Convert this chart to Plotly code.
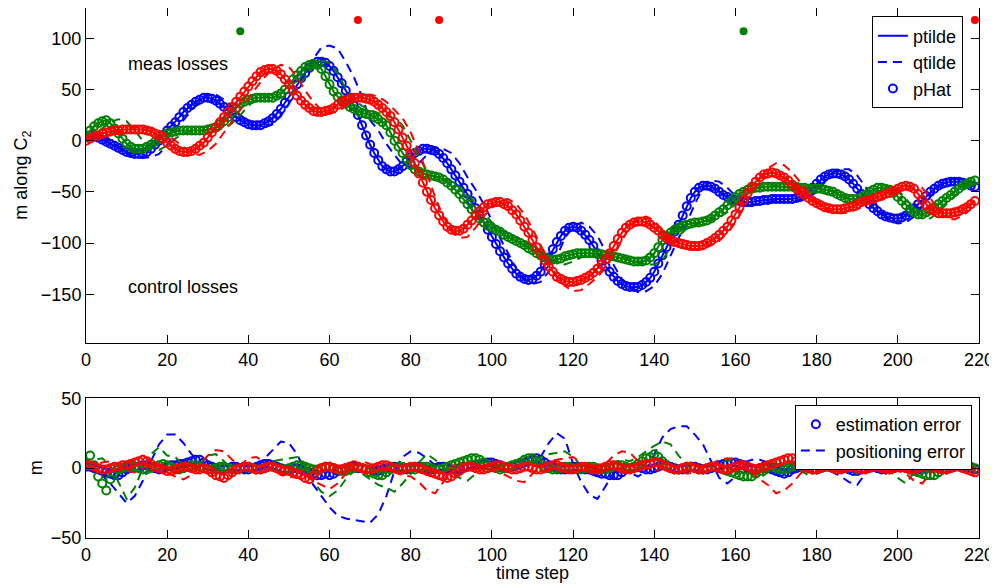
import plotly.graph_objects as go

# ---------------- data ----------------
t_p = list(range(220))
blue_phat = [5,5,4,3,1,-1,-3,-5,-7,-9,-11,-12,-13,-13,-12,-11,-8,-4,0,5,
             10,14,18,23,28,32,35,38,40,42,42,41,39,36,33,30,26,23,20,18,
             16,15,15,15,17,19,22,26,31,37,43,49,55,61,66,71,75,77,77,76,
             73,68,62,56,49,42,34,25,15,5,-4,-12,-19,-25,-28,-30,-30,-28,-25,-20,
             -16,-12,-10,-8,-8,-9,-10,-13,-17,-22,-28,-34,-40,-46,-52,-59,-66,-73,-80,-87,
             -94,-101,-108,-114,-120,-125,-130,-133,-135,-136,-135,-132,-128,-121,-114,-106,-99,-93,-88,-85,
             -84,-85,-88,-92,-97,-103,-110,-117,-123,-128,-133,-137,-140,-142,-143,-143,-143,-141,-138,-134,
             -128,-120,-112,-104,-96,-89,-82,-73,-64,-56,-50,-46,-44,-44,-45,-47,-50,-53,-55,-57,
             -58,-59,-60,-60,-60,-59,-59,-58,-58,-57,-57,-57,-57,-57,-57,-56,-55,-53,-50,-46,
             -42,-38,-35,-33,-32,-32,-33,-35,-38,-42,-47,-52,-57,-62,-66,-69,-72,-74,-75,-76,
             -76,-75,-73,-70,-66,-62,-58,-54,-50,-47,-44,-42,-41,-40,-40,-40,-41,-42,-44,-45]
green_phat = [5,10,14,17,19,20,17,12,7,2,-3,-6,-8,-8,-8,-6,-4,-1,2,5,
              7,8,9,10,10,10,10,10,10,10,11,12,13,16,19,23,28,32,36,38,
              40,41,42,42,42,42,42,44,46,50,55,60,64,68,72,74,75,74,70,63,
              55,48,43,39,36,33,31,29,27,26,25,23,21,18,15,8,0,-6,-12,-18,
              -24,-28,-30,-32,-33,-34,-35,-36,-38,-41,-44,-48,-52,-57,-62,-67,-72,-76,-80,-83,
              -85,-87,-89,-92,-94,-96,-98,-100,-102,-105,-107,-110,-112,-114,-116,-116,-116,-115,-113,-112,
              -111,-110,-110,-110,-110,-110,-111,-111,-112,-112,-113,-114,-115,-116,-117,-118,-118,-118,-117,-114,
              -110,-104,-97,-93,-90,-87,-85,-83,-82,-81,-80,-80,-79,-78,-76,-73,-70,-67,-63,-59,
              -55,-52,-50,-48,-47,-46,-46,-45,-45,-45,-45,-45,-45,-45,-45,-45,-46,-46,-47,-47,
              -47,-47,-48,-49,-50,-52,-54,-56,-57,-57,-57,-55,-53,-50,-48,-46,-46,-47,-48,-51,
              -55,-59,-63,-67,-70,-72,-72,-70,-68,-65,-62,-59,-56,-53,-50,-47,-44,-42,-40,-39]
red_phat = [0,2,4,5,7,8,9,10,10,11,11,11,11,11,11,10,9,7,5,2,
            -2,-5,-8,-10,-11,-11,-10,-8,-5,-2,3,8,13,18,23,28,33,38,43,48,
            53,58,63,67,69,70,70,68,65,60,55,49,44,39,35,32,29,28,28,29,
            30,32,35,38,40,41,42,42,42,41,40,38,35,32,28,24,18,11,3,-5,
            -13,-22,-32,-41,-50,-58,-66,-73,-79,-84,-87,-88,-88,-86,-82,-78,-73,-69,-65,-62,
            -61,-60,-60,-62,-64,-68,-72,-78,-84,-90,-97,-104,-110,-117,-123,-128,-133,-135,-137,-138,
            -138,-137,-136,-134,-132,-129,-125,-121,-116,-110,-103,-96,-90,-85,-82,-80,-79,-79,-80,-82,
            -85,-88,-92,-95,-97,-99,-100,-101,-102,-103,-103,-103,-102,-100,-98,-95,-92,-88,-84,-78,
            -72,-65,-58,-51,-45,-40,-36,-33,-32,-31,-32,-34,-36,-39,-43,-47,-50,-53,-56,-59,
            -61,-63,-65,-66,-67,-67,-67,-66,-65,-64,-62,-60,-59,-58,-57,-55,-54,-52,-51,-49,
            -47,-45,-44,-45,-47,-52,-58,-63,-67,-69,-71,-71,-71,-71,-70,-69,-67,-65,-62,-59]

t_q = list(range(0, 220, 2))
blue_q = [5,5,3,-1,-6,-12,-16,-17,-16,-13,-4,10,20,30,39,45,45,40,34,25,
          19,14,13,16,24,36,50,65,80,91,93,90,77,62,43,20,10,-3,-14,-24,
          -26,-22,-14,-7,-8,-12,-22,-36,-48,-62,-78,-95,-110,-125,-135,-140,-138,-128,-113,-95,
          -84,-80,-84,-93,-108,-122,-135,-143,-148,-147,-142,-130,-112,-95,-80,-62,-46,-39,-40,-46,
          -54,-60,-63,-62,-60,-58,-57,-57,-58,-56,-50,-40,-31,-28,-28,-34,-45,-58,-70,-78,
          -81,-80,-74,-65,-55,-45,-39,-37,-38,-41]
green_q = [5,6,12,18,21,19,10,0,-7,-9,-5,2,7,10,10,10,10,12,17,25,
           34,40,43,43,42,44,52,62,72,78,76,66,50,40,34,30,27,24,22,15,
           0,-16,-30,-36,-37,-40,-45,-52,-61,-71,-80,-87,-91,-95,-99,-104,-109,-114,-119,-121,
           -118,-114,-111,-110,-111,-112,-114,-116,-119,-121,-121,-117,-104,-93,-86,-82,-79,-78,-75,-70,
           -62,-54,-48,-45,-44,-44,-45,-45,-45,-46,-47,-48,-49,-52,-57,-61,-60,-54,-47,-45,
           -48,-57,-66,-74,-76,-70,-62,-54,-47,-41]
red_q = [0,1,3,6,9,11,13,13,12,10,6,0,-6,-12,-14,-10,-3,8,20,31,
         42,52,62,70,74,72,62,49,38,30,27,28,34,40,44,45,43,38,30,22,
         8,-10,-32,-55,-74,-88,-95,-94,-85,-74,-65,-58,-57,-62,-72,-86,-102,-118,-133,-142,
         -147,-146,-140,-133,-124,-112,-98,-84,-76,-74,-78,-88,-98,-104,-106,-106,-105,-102,-98,-90,
         -80,-66,-50,-37,-27,-22,-24,-31,-41,-51,-60,-66,-70,-71,-70,-67,-63,-60,-57,-54,
         -50,-46,-43,-46,-56,-68,-76,-77,-73,-67]

green_loss_t = [38, 162]
green_loss_y = [107, 107]
red_loss_t = [67, 87, 219]
red_loss_y = [118, 118, 118]

t_est = list(range(220))
blue_est = [1,1,0,-1,-2,-3,-4,-5,-5,-3, -1,0,1,1,2,2,1,0,-1,0,
            1,2,2,3,3,4,5,6,6,4, 2,1,0,-1,-1,0,1,1,0,-1,
            -1,0,1,2,3,3,2,1,0,-1, -1,0,0,-1,-2,-3,-4,-5,-5,-4,
            -5,-4,-2,-1,0,1,1,0,0,-1, -1,-2,-2,-1,0,1,1,0,-1,-1,
            0,1,1,0,-1,-1,0,1,1,0, -1,-1,0,1,1,2,2,3,3,4,
            4,3,2,1,0,1,2,3,4,5, 6,7,6,4,2,1,0,-1,-1,0,
            1,1,0,-1,-1,-2,-3,-4,-4,-5, -5,-5,-3,-1,0,1,1,0,-1,-1,
            0,1,2,2,1,0,-1,-1,0,1, 1,0,-1,-1,0,1,2,3,3,4,
            4,3,2,0,-1,-1,0,1,0,-1, -2,-3,-4,-3,-1,0,1,1,0,-1,
            -1,0,1,1,2,2,1,0,-1,-2, -2,-1,0,1,1,0,-1,-1,0,1,
            1,2,2,1,0,-1,-1,0,1,1, 0,-1,-1,0,1,2,2,1,0,-1]
green_est = [3,9,2,-6,-11,-16,-8,-3,-1,0, 1,2,1,0,-1,-1,0,1,2,3,
             2,1,0,-1,0,1,2,2,1,0, -1,-1,0,1,1,0,-1,-1,0,1,
             1,0,-1,-1,0,1,1,0,-1,-1, 0,1,2,2,1,0,-1,-1,0,1,
             1,0,-1,-2,-2,-1,0,1,0,-1, -3,-4,-5,-5,-3,-1,0,1,1,0,
             -1,-1,0,1,1,0,-1,-1,0,1, 2,3,4,5,6,7,7,6,4,2,
             1,0,-1,0,1,2,3,4,6,7, 7,5,3,1,0,-1,-1,0,1,1,
             0,-1,-1,0,1,1,0,-1,-1,0, 1,2,2,1,0,1,3,5,7,8,
             10,8,5,2,0,-1,-1,0,1,1, 0,-1,-1,0,1,1,0,-1,-2,-3,
             -4,-5,-6,-6,-6,-4,-2,0,1,1, 0,-1,-1,0,1,2,2,1,0,-1,
             -1,0,1,2,2,1,0,1,2,4, 5,6,6,6,4,2,0,-1,-1,0,
             1,1,0,-1,-2,-3,-4,-5,-5,-5, -3,-1,0,1,2,2,2,2,1,0]
red_est = [2,2,1,0,-1,-1,0,1,1,2, 2,3,4,5,6,5,3,1,0,-1,
           -2,-2,-1,0,1,1,0,-1,-1,0, -1,-3,-5,-6,-7,-5,-3,-1,0,1,
           1,0,-1,-1,0,1,1,0,-1,-2, -2,-3,-4,-5,-7,-8,-5,-2,0,1,
           1,0,-1,-1,0,1,2,1,0,-1, -1,0,1,2,2,1,0,-1,-1,0,
           1,1,0,-1,-2,-3,-4,-5,-6,-7, -6,-4,-2,0,1,1,0,-1,-1,0,
           1,2,2,1,0,-1,-1,0,1,1, 0,-1,-1,0,1,2,2,1,0,-1,
           -1,0,1,1,0,-1,-1,0,1,2, 2,1,0,-1,-1,0,1,2,3,3,
           4,4,3,1,0,-1,-1,0,1,1, 0,-1,-1,0,1,1,0,-1,-1,0,
           1,2,2,1,0,-1,0,1,2,3, 4,5,6,7,7,5,3,1,0,-1,
           -1,0,1,1,0,-1,-1,0,1,1, 0,-1,-1,0,1,1,0,-1,-1,0,
           1,1,0,-1,-1,0,1,2,2,1, 0,-1,-1,0,1,1,0,-1,-2,-3]

t_pos = list(range(0, 220, 2))
blue_pos = [0,-1,-5,-11,-18,-25,-20,-9,5,17,24,24,18,10,4,2,0,-1,-2,-3,
            -2,2,7,13,19,18,10,-2,-12,-20,-28,-34,-36,-37,-38,-39,-33,-20,-2,8,
            12,11,7,2,-2,-5,-4,0,1,0,-1,-2,0,2,3,4,8,18,25,21,
            3,-10,-19,-22,-13,-3,1,-3,-6,-2,10,22,28,30,30,24,17,5,-7,-11,
            -6,4,6,6,4,1,-1,-3,-2,0,1,0,-3,-6,-10,-12,-4,2,1,-1,
            -2,-1,1,2,0,-2,-1,1,2,1]
green_pos = [0,6,7,2,-10,-22,-14,0,10,15,9,8,2,-2,3,9,10,5,-2,-4,
             -2,0,3,5,6,7,8,2,-10,-17,-20,-16,-8,-2,-4,-8,-12,-14,-17,-11,
             -4,4,10,6,1,-3,-7,-9,-4,0,2,1,-1,0,3,5,8,10,11,12,
             8,2,-3,-5,-1,4,6,5,8,12,16,19,17,9,2,-2,-3,0,4,6,
             5,2,-4,-7,-3,2,5,3,-2,-5,-3,2,6,4,-1,-4,2,6,4,-2,
             -7,-11,-3,7,9,5,1,-2,3,5]
red_pos = [0,2,4,5,2,-2,-3,0,3,1,-3,-6,-8,-5,2,9,13,12,6,2,
           7,8,4,-1,-5,-6,-7,-5,-9,-12,-15,-11,-4,2,5,3,0,-2,-3,-5,
           -6,-10,-16,-18,-10,1,4,2,0,-1,-2,-3,-6,-9,-10,-4,2,5,6,7,
           8,4,-1,-2,3,9,12,11,5,0,-2,0,2,-1,-4,-3,0,3,6,7,
           6,2,-3,-8,-12,-18,-16,-11,-4,1,3,2,0,-2,-1,1,2,1,-1,-3,
           -2,-4,-9,-11,-4,5,8,7,3,0]

# ---------------- styling ----------------
BLUE, GREEN, RED = "#0000FF", "#008000", "#FF0000"
FONT = "Liberation Sans, Arial, Helvetica, sans-serif"
DASH = "9px,6px"

fig = go.Figure()

top = [(BLUE, blue_phat, blue_q, True), (GREEN, green_phat, green_q, False),
       (RED, red_phat, red_q, False)]
for col, ph, q, leg in top:
    fig.add_trace(go.Scatter(x=t_p[:len(ph)], y=ph, mode="lines", name="ptilde",
                             line=dict(color=col, width=2), showlegend=leg,
                             legend="legend", xaxis="x", yaxis="y"))
    fig.add_trace(go.Scatter(x=t_q[:len(q)], y=q, mode="lines", name="qtilde",
                             line=dict(color=col, width=2, dash=DASH), showlegend=leg,
                             legend="legend", xaxis="x", yaxis="y"))
    fig.add_trace(go.Scatter(x=t_p[:len(ph)], y=ph, mode="markers", name="pHat",
                             marker=dict(symbol="circle-open", size=8, color=col,
                                         line=dict(width=2, color=col)),
                             showlegend=leg, legend="legend", xaxis="x", yaxis="y"))

fig.add_trace(go.Scatter(x=green_loss_t, y=green_loss_y, mode="markers", showlegend=False,
                         marker=dict(symbol="circle", size=8, color=GREEN),
                         cliponaxis=False, xaxis="x", yaxis="y"))
fig.add_trace(go.Scatter(x=red_loss_t, y=red_loss_y, mode="markers", showlegend=False,
                         marker=dict(symbol="circle", size=8, color=RED),
                         cliponaxis=False, xaxis="x", yaxis="y"))

bottom = [(BLUE, blue_est, blue_pos, True), (GREEN, green_est, green_pos, False),
          (RED, red_est, red_pos, False)]
for col, est, pos, leg in bottom:
    fig.add_trace(go.Scatter(x=t_est[:len(est)], y=est, mode="markers", name="estimation error",
                             marker=dict(symbol="circle-open", size=8, color=col,
                                         line=dict(width=2, color=col)),
                             showlegend=leg, legend="legend2", xaxis="x2", yaxis="y2"))
    fig.add_trace(go.Scatter(x=t_pos[:len(pos)], y=pos, mode="lines", name="positioning error",
                             line=dict(color=col, width=2, dash=DASH),
                             showlegend=leg, legend="legend2", xaxis="x2", yaxis="y2"))

axis_common = dict(showline=True, linecolor="black", linewidth=1, mirror="ticks",
                   ticks="inside", ticklen=8, tickwidth=1, tickcolor="black",
                   showgrid=False, zeroline=False, automargin=False,
                   tickfont=dict(family=FONT, size=18, color="black"))

TOP_DOM = [0.3674, 1.0]
BOT_DOM = [0.0, 0.2636]

# the page body adds an 8px offset, so the figure is 8px smaller and margins shifted
fig.update_layout(
    width=989, height=578,
    margin=dict(l=78, r=18, t=0, b=48, autoexpand=False),
    paper_bgcolor="white", plot_bgcolor="white",
    font=dict(family=FONT, size=18, color="black"),
    xaxis=dict(domain=[0, 1], anchor="y", range=[0, 220], tickvals=list(range(0, 221, 20)),
               **axis_common),
    yaxis=dict(domain=TOP_DOM, anchor="x", range=[-197.9, 129.6],
               tickvals=[-150, -100, -50, 0, 50, 100], **axis_common),
    xaxis2=dict(domain=[0, 1], anchor="y2", range=[0, 220], tickvals=list(range(0, 221, 20)),
                **axis_common),
    yaxis2=dict(domain=BOT_DOM, anchor="x2", range=[-50, 50], tickvals=[-50, 0, 50],
                **axis_common),
    legend=dict(x=0.982, xanchor="right", y=0.984, yanchor="top",
                bgcolor="white", bordercolor="black", borderwidth=1,
                font=dict(family=FONT, size=18, color="black"), tracegroupgap=0),
    legend2=dict(x=0.992, xanchor="right", y=0.251, yanchor="top",
                 bgcolor="white", bordercolor="black", borderwidth=1,
                 font=dict(family=FONT, size=18, color="black"), tracegroupgap=0),
    annotations=[
        dict(text="meas losses", x=9.85, y=74.7, xref="x", yref="y", xanchor="left",
             yanchor="middle", showarrow=False, font=dict(family=FONT, size=18)),
        dict(text="control losses", x=9.85, y=-142.5, xref="x", yref="y", xanchor="left",
             yanchor="middle", showarrow=False, font=dict(family=FONT, size=18)),
        dict(text="m along C<sub>2</sub>", x=0, y=(TOP_DOM[0] + TOP_DOM[1]) / 2,
             xref="paper", yref="paper", xshift=-63, xanchor="center", yanchor="middle",
             textangle=-90, showarrow=False, font=dict(family=FONT, size=18)),
        dict(text="m", x=0, y=(BOT_DOM[0] + BOT_DOM[1]) / 2,
             xref="paper", yref="paper", xshift=-50, xanchor="center", yanchor="middle",
             textangle=-90, showarrow=False, font=dict(family=FONT, size=18)),
        dict(text="time step", x=0.5, y=0, xref="paper", yref="paper", yshift=-35,
             xanchor="center", yanchor="middle", showarrow=False,
             font=dict(family=FONT, size=18)),
    ],
)

fig.write_html("out.html")
